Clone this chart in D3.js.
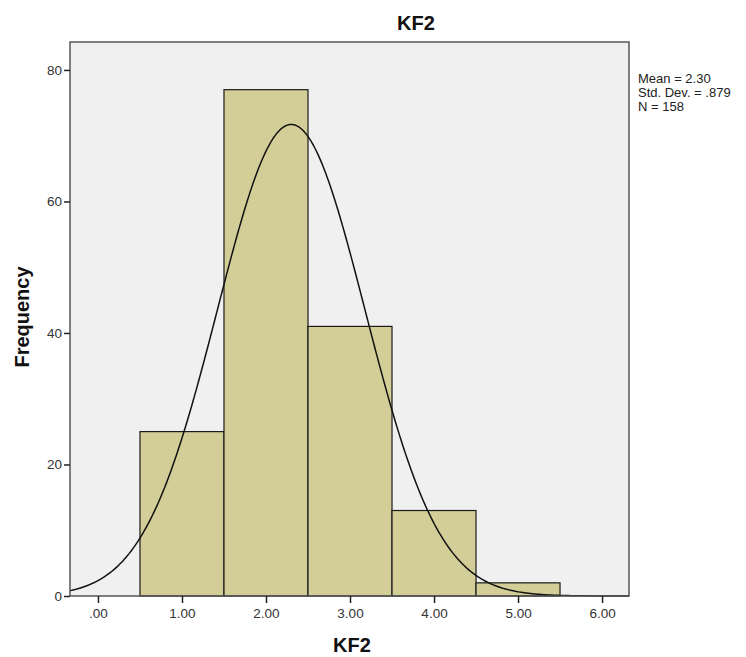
<!DOCTYPE html>
<html>
<head>
<meta charset="utf-8">
<script src="https://cdn.jsdelivr.net/npm/d3@7"></script>
<style>
  html, body { margin: 0; padding: 0; background: #fff; }
  svg { display: block; font-family: "Liberation Sans", Arial, sans-serif; }
</style>
</head>
<body>
<svg id="chart" width="746" height="657"></svg>
<script>
// Histogram of KF2 with fitted normal curve
const binStarts = [0.5, 1.5, 2.5, 3.5, 4.5];
const binWidth = 1;
const frequencies = [25, 77, 41, 13, 2];
const xTicks = [0, 1, 2, 3, 4, 5, 6];
const xTickLabels = [".00", "1.00", "2.00", "3.00", "4.00", "5.00", "6.00"];
const yTicks = [0, 20, 40, 60, 80];
const stats = { mean: 2.30, sd: 0.879, n: 158 };
const legendLines = ["Mean = 2.30", "Std. Dev. = .879", "N = 158"];

const svg = d3.select("#chart");
const plot = { left: 70, right: 629, top: 42, bottom: 596 };

const x = d3.scaleLinear().domain([-0.333, 6.321]).range([plot.left, plot.right]);
const y = d3.scaleLinear().domain([0, 84.25]).range([plot.bottom, plot.top]);

// plot background
svg.append("rect")
  .attr("x", plot.left).attr("y", plot.top)
  .attr("width", plot.right - plot.left).attr("height", plot.bottom - plot.top)
  .attr("fill", "#f0f0f0");

// bars
svg.append("g").selectAll("rect")
  .data(binStarts.map((b, i) => ({ b, f: frequencies[i] })))
  .join("rect")
  .attr("x", d => x(d.b))
  .attr("y", d => y(d.f))
  .attr("width", d => x(d.b + binWidth) - x(d.b))
  .attr("height", d => y(0) - y(d.f))
  .attr("fill", "#d3ce98")
  .attr("stroke", "#1a1a1a")
  .attr("stroke-width", 1.2);

// normal curve scaled to counts
const pdf = v => stats.n * binWidth / (stats.sd * Math.sqrt(2 * Math.PI)) *
  Math.exp(-0.5 * Math.pow((v - stats.mean) / stats.sd, 2));
const [x0, x1] = x.domain();
const curvePts = d3.range(0, 401).map(i => {
  const v = x0 + (x1 - x0) * i / 400;
  return [v, pdf(v)];
});
svg.append("path")
  .datum(curvePts)
  .attr("d", d3.line().x(d => x(d[0])).y(d => y(d[1])))
  .attr("fill", "none")
  .attr("stroke", "#111")
  .attr("stroke-width", 1.5);

// frame
svg.append("rect")
  .attr("x", plot.left).attr("y", plot.top)
  .attr("width", plot.right - plot.left).attr("height", plot.bottom - plot.top)
  .attr("fill", "none")
  .attr("stroke", "#555")
  .attr("stroke-width", 1.5);

// y axis
const yAxis = d3.axisLeft(y).tickValues(yTicks).tickSize(6).tickPadding(2).tickFormat(d3.format("d"));
const gy = svg.append("g").attr("transform", `translate(${plot.left},0)`).call(yAxis);
gy.select(".domain").remove();
gy.selectAll(".tick line").attr("stroke", "#222").attr("stroke-width", 1.5);
gy.selectAll(".tick text").attr("font-size", 13.5).attr("fill", "#333")
  .attr("font-family", "'Liberation Sans', Arial, sans-serif");

// x axis
const xAxis = d3.axisBottom(x).tickValues(xTicks).tickSize(7).tickPadding(5)
  .tickFormat((d, i) => xTickLabels[i]);
const gx = svg.append("g").attr("transform", `translate(0,${plot.bottom})`).call(xAxis);
gx.select(".domain").remove();
gx.selectAll(".tick line").attr("stroke", "#222").attr("stroke-width", 1.5);
gx.selectAll(".tick text").attr("font-size", 13.5).attr("fill", "#333")
  .attr("font-family", "'Liberation Sans', Arial, sans-serif");

// titles
svg.append("text")
  .attr("x", 416).attr("y", 30)
  .attr("text-anchor", "middle")
  .attr("font-size", 20).attr("font-weight", "bold").attr("fill", "#111")
  .text("KF2");

svg.append("text")
  .attr("x", 352).attr("y", 652)
  .attr("text-anchor", "middle")
  .attr("font-size", 20).attr("font-weight", "bold").attr("fill", "#111")
  .text("KF2");

svg.append("text")
  .attr("transform", "translate(29,317) rotate(-90)")
  .attr("text-anchor", "middle")
  .attr("font-size", 20).attr("font-weight", "bold").attr("fill", "#111")
  .text("Frequency");

// summary statistics
svg.append("g").selectAll("text")
  .data(legendLines)
  .join("text")
  .attr("x", 638)
  .attr("y", (d, i) => 83 + i * 14)
  .attr("font-size", 13).attr("fill", "#222")
  .text(d => d);
</script>
</body>
</html>
